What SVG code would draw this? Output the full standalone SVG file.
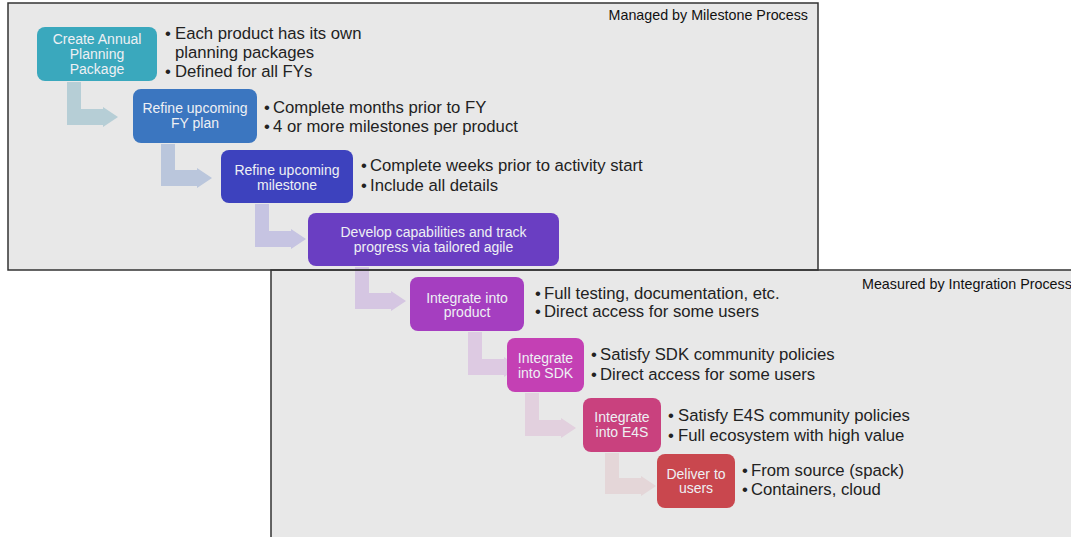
<svg xmlns="http://www.w3.org/2000/svg" width="1071" height="537" viewBox="0 0 1071 537">
<style>
.frame{fill:#e8e8e8;stroke:none}
.fline{fill:none;stroke:#333;stroke-width:1.5}
.ftitle{font-family:"Liberation Sans",Arial,sans-serif;font-size:14.3px;fill:#111}
.lbl{font-family:"Liberation Sans",Arial,sans-serif;font-size:14px;fill:#eef0f4;text-anchor:middle}
.bul{font-family:"Liberation Sans",Arial,sans-serif;font-size:16.7px;fill:#222}
</style>
<rect width="1071" height="537" fill="#ffffff"/>
<g id="frame-milestone">
<rect class="frame" x="8" y="3" width="810" height="267"/>
</g>
<g id="frame-integration">
<rect class="frame" x="271" y="270" width="820" height="280"/>
</g>
<g id="connectors">
<path fill="#b6ced6" d="M67 82 H81 V109 H103 V107 L118 117 L103 127 V125 H67 Z"/>
<path fill="#bac6dc" d="M161 144 H175 V170 H197 V168 L212 178 L197 188 V186 H161 Z"/>
<path fill="#c6c4e2" d="M255 204 H269 V231 H291 V229 L306 239 L291 249 V247 H255 Z"/>
<path fill="#d5c6e2" d="M355 267 H369 V293 H391 V291 L406 301 L391 311 V309 H355 Z"/>
<path fill="#ddcae2" d="M468 332 H482 V359 H504 V357 L519 367 L504 377 V375 H468 Z"/>
<path fill="#e2d0de" d="M525 393 H539 V420 H561 V418 L576 428 L561 438 V436 H525 Z"/>
<path fill="#e4d6d8" d="M605 453 H619 V478 H641 V476 L656 486 L641 496 V494 H605 Z"/>
</g>
<g id="frame-lines">
<rect class="fline" x="8" y="3" width="810" height="267"/>
<path class="fline" d="M271 545 V270 H1080"/>
<text class="ftitle" x="808" y="20" text-anchor="end">Managed by Milestone Process</text>
<text class="ftitle" x="862" y="289">Measured by Integration Process</text>
</g>
<g id="node-create">
<rect x="37" y="27" width="120" height="54" rx="8" fill="#3aa8bd"/>
<text class="lbl" x="97" y="44">Create Annual</text>
<text class="lbl" x="97" y="59">Planning</text>
<text class="lbl" x="97" y="74">Package</text>
<text class="bul" x="165" y="38.5">•</text>
<text class="bul" x="175" y="38.5">Each product has its own</text>
<text class="bul" x="175" y="57.5">planning packages</text>
<text class="bul" x="165" y="77">•</text><text class="bul" x="175" y="77">Defined for all FYs</text>
</g>
<g id="node-fyplan">
<rect x="133" y="89" width="124" height="54" rx="8" fill="#3b76c0"/>
<text class="lbl" x="195" y="113">Refine upcoming</text>
<text class="lbl" x="195" y="128">FY plan</text>
<text class="bul" x="264" y="113">•</text><text class="bul" x="273" y="113">Complete months prior to FY</text>
<text class="bul" x="264" y="132">•</text><text class="bul" x="273" y="132">4 or more milestones per product</text>
</g>
<g id="node-milestone">
<rect x="221" y="150" width="132" height="53" rx="8" fill="#3d42be"/>
<text class="lbl" x="287" y="175">Refine upcoming</text>
<text class="lbl" x="287" y="190">milestone</text>
<text class="bul" x="361" y="171">•</text><text class="bul" x="370" y="171">Complete weeks prior to activity start</text>
<text class="bul" x="361" y="191">•</text><text class="bul" x="370" y="191">Include all details</text>
</g>
<g id="node-develop">
<rect x="308" y="213" width="251" height="53" rx="8" fill="#6a3ec2"/>
<text class="lbl" x="433.5" y="237">Develop capabilities and track</text>
<text class="lbl" x="433.5" y="252">progress via tailored agile</text>
</g>
<g id="node-product">
<rect x="410" y="277" width="114" height="54" rx="8" fill="#a53ec0"/>
<text class="lbl" x="467" y="303">Integrate into</text>
<text class="lbl" x="467" y="317">product</text>
<text class="bul" x="535" y="299">•</text><text class="bul" x="544" y="299">Full testing, documentation, etc.</text>
<text class="bul" x="535" y="317">•</text><text class="bul" x="544" y="317">Direct access for some users</text>
</g>
<g id="node-sdk">
<rect x="507" y="338" width="77" height="54" rx="8" fill="#c440b4"/>
<text class="lbl" x="545.5" y="363">Integrate</text>
<text class="lbl" x="545.5" y="378">into SDK</text>
<text class="bul" x="591" y="360">•</text><text class="bul" x="600" y="360">Satisfy SDK community policies</text>
<text class="bul" x="591" y="380">•</text><text class="bul" x="600" y="380">Direct access for some users</text>
</g>
<g id="node-e4s">
<rect x="583" y="398" width="78" height="54" rx="8" fill="#c9417e"/>
<text class="lbl" x="622" y="422">Integrate</text>
<text class="lbl" x="622" y="437">into E4S</text>
<text class="bul" x="668" y="421">•</text><text class="bul" x="678" y="421">Satisfy E4S community policies</text>
<text class="bul" x="668" y="441">•</text><text class="bul" x="678" y="441">Full ecosystem with high value</text>
</g>
<g id="node-deliver">
<rect x="657" y="454" width="78" height="54" rx="8" fill="#c9474e"/>
<text class="lbl" x="696" y="479">Deliver to</text>
<text class="lbl" x="696" y="493">users</text>
<text class="bul" x="742" y="476">•</text><text class="bul" x="751" y="476">From source (spack)</text>
<text class="bul" x="742" y="495">•</text><text class="bul" x="751" y="495">Containers, cloud</text>
</g>
</svg>
